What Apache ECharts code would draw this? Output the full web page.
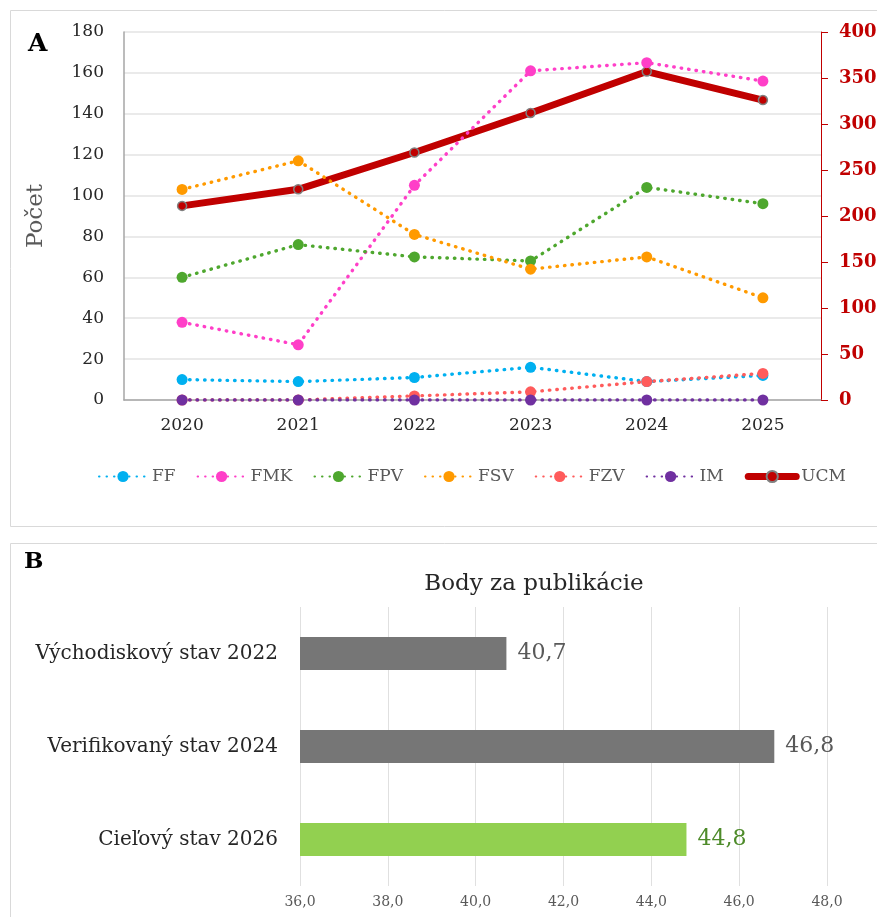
<!DOCTYPE html>
<html>
<head>
<meta charset="utf-8">
<script src="https://cdn.jsdelivr.net/npm/echarts@6/dist/echarts.min.js"></script>
<style>html,body{margin:0;padding:0;background:#fff;}#c{width:877px;height:917px;}</style>
</head>
<body>
<div id="c"></div>
<script>
const years = ['2020', '2021', '2022', '2023', '2024', '2025'];
const FF  = [10, 9, 11, 16, 9, 12];
const FMK = [38, 27, 105, 161, 165, 156];
const FPV = [60, 76, 70, 68, 104, 96];
const FSV = [103, 117, 81, 64, 70, 50];
const FZV = [0, 0, 2, 4, 9, 13];
const IM  = [0, 0, 0, 0, 0, 0];
const UCM = [211, 229, 269, 312, 357, 326];
const leftTicks = [0, 180, 20];
const rightTicks = [0, 400, 50];

const bCategories = ['Východiskový stav 2022', 'Verifikovaný stav 2024', 'Cieľový stav 2026'];
const bValues = [40.7, 46.8, 44.8];
const bTicks = [36, 48, 2];

const F = 'DejaVu Serif';
const dotted = [0.5, 7];

function dotSeries(name, data, color) {
  return {
    name, type: 'line', data, xAxisIndex: 0, yAxisIndex: 0,
    symbol: 'circle', symbolSize: 11,
    itemStyle: { color },
    lineStyle: { color, width: 3.4, type: dotted, cap: 'round' },
    z: 3
  };
}

const chart = echarts.init(document.getElementById('c'), null, { renderer: 'canvas' });
const comma = v => String(v.toFixed(1)).replace('.', ',');

chart.setOption({
  animation: false,
  textStyle: { fontFamily: F },
  graphic: [
    { type: 'rect', shape: { x: 10.5, y: 10.5, width: 900, height: 516 }, style: { fill: 'none', stroke: '#D9D9D9', lineWidth: 1 }, z: 0 },
    { type: 'rect', shape: { x: 10.5, y: 543.5, width: 900, height: 400 }, style: { fill: 'none', stroke: '#D9D9D9', lineWidth: 1 }, z: 0 },
    { type: 'text', left: 28, top: 32, style: { text: 'A', font: 'bold 25px "DejaVu Serif"', fill: '#000' } },
    { type: 'text', left: 24, top: 551, style: { text: 'B', font: 'bold 23px "DejaVu Serif"', fill: '#000' } }
  ],
  title: {
    text: 'Body za publikácie',
    left: 529, textAlign: 'center', top: 568,
    textStyle: { fontFamily: F, fontSize: 23, fontWeight: 'normal', color: '#262626' }
  },
  legend: {
    data: ['FF', 'FMK', 'FPV', 'FSV', 'FZV', 'IM',
      { name: 'UCM', lineStyle: { width: 7 } }],
    left: 93, right: 0, top: 463,
    itemWidth: 48, itemHeight: 14, itemGap: 21,
    textStyle: { fontFamily: F, fontSize: 17, color: '#595959' }
  },
  grid: [
    { left: 124, right: 56, top: 32, height: 368, outerBoundsMode: 'none', containLabel: false },
    { left: 300, right: 50, top: 607, height: 279, outerBoundsMode: 'none', containLabel: false }
  ],
  xAxis: [
    {
      type: 'category', data: years, gridIndex: 0,
      axisLine: { lineStyle: { color: '#A6A6A6', width: 1.5 } },
      axisTick: { show: false },
      axisLabel: { fontFamily: F, fontSize: 17, color: '#262626', margin: 17 }
    },
    {
      type: 'value', gridIndex: 1, min: bTicks[0], max: bTicks[1], interval: bTicks[2],
      axisLine: { show: false }, axisTick: { show: false },
      splitLine: { lineStyle: { color: '#E0E0E0' } },
      axisLabel: { fontFamily: F, fontSize: 14, color: '#595959', margin: 9, formatter: v => comma(v) }
    }
  ],
  yAxis: [
    {
      type: 'value', gridIndex: 0, min: leftTicks[0], max: leftTicks[1], interval: leftTicks[2],
      name: 'Počet', nameLocation: 'middle', nameGap: 76, nameRotate: 90,
      nameTextStyle: { fontFamily: F, fontSize: 23, color: '#595959' },
      axisLine: { show: true, lineStyle: { color: '#A6A6A6', width: 1.5 } },
      axisTick: { show: false },
      splitLine: { lineStyle: { color: '#E3E3E3', width: 1.5 } },
      axisLabel: { fontFamily: F, fontSize: 17, color: '#262626', margin: 20 }
    },
    {
      type: 'value', gridIndex: 0, position: 'right', min: rightTicks[0], max: rightTicks[1], interval: rightTicks[2],
      axisLine: { show: true, lineStyle: { color: '#C00000', width: 1 } },
      axisTick: { show: true, length: 7, lineStyle: { color: '#C00000' } },
      splitLine: { show: false },
      axisLabel: { fontFamily: F, fontSize: 18, fontWeight: 'bold', color: '#C00000', margin: 18 }
    },
    {
      type: 'category', gridIndex: 1, data: bCategories, inverse: true,
      axisLine: { show: false }, axisTick: { show: false },
      axisLabel: { fontFamily: F, fontSize: 20, color: '#262626', margin: 22 }
    }
  ],
  series: [
    dotSeries('FF', FF, '#00B0F0'),
    dotSeries('FMK', FMK, '#FF3FC8'),
    dotSeries('FPV', FPV, '#4EA72E'),
    dotSeries('FSV', FSV, '#FF9A00'),
    dotSeries('FZV', FZV, '#FF5B5B'),
    dotSeries('IM', IM, '#7030A0'),
    {
      name: 'UCM', type: 'line', data: UCM, xAxisIndex: 0, yAxisIndex: 1,
      symbol: 'circle', symbolSize: 9,
      itemStyle: { color: '#C00000', borderColor: '#808080', borderWidth: 1.5 },
      lineStyle: { color: '#C00000', width: 7, cap: 'round', join: 'round' },
      z: 2
    },
    {
      type: 'bar', xAxisIndex: 1, yAxisIndex: 2, barWidth: 33,
      data: bValues.map((v, i) => ({
        value: v,
        itemStyle: { color: i === 2 ? '#92D050' : '#767676' },
        label: { color: i === 2 ? '#4E8B2A' : '#595959' }
      })),
      label: { show: true, position: 'right', distance: 11, fontFamily: F, fontSize: 22, formatter: p => comma(p.value) }
    }
  ]
});
</script>
</body>
</html>
